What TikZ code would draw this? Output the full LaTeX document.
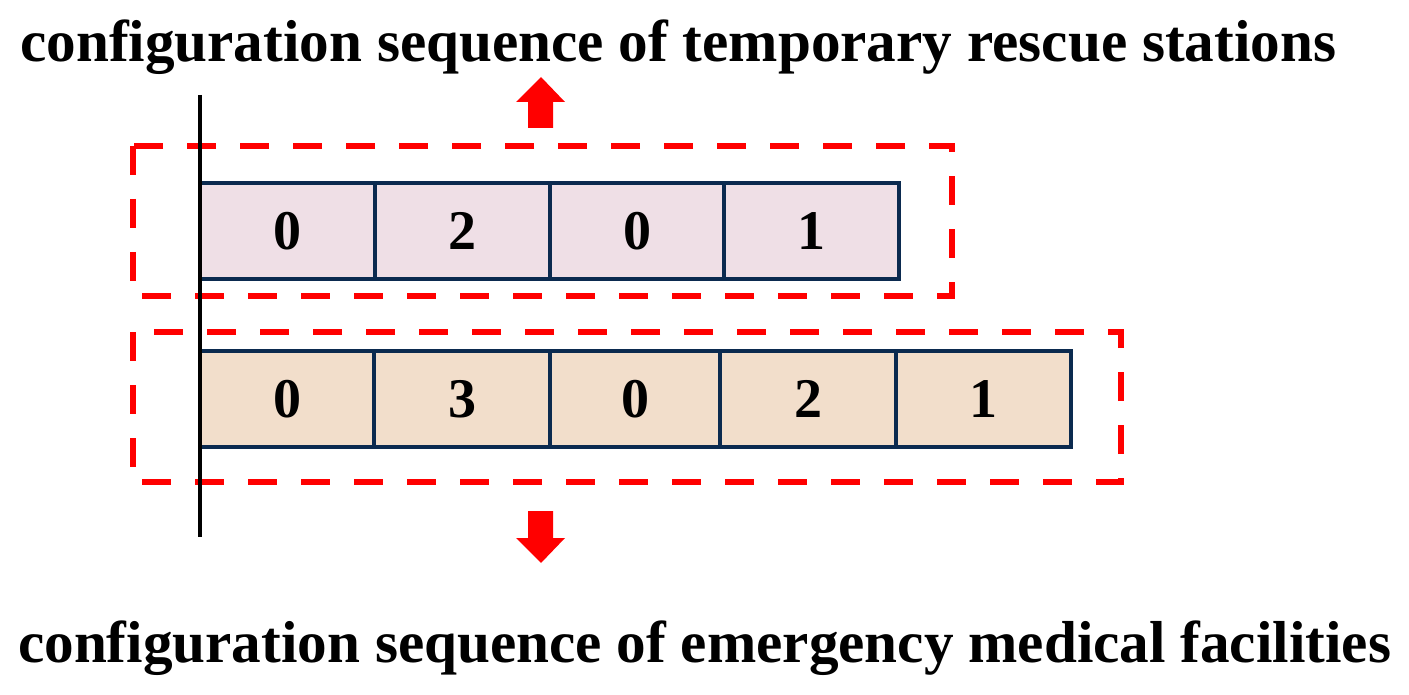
\documentclass[tikz,border=0pt]{standalone}
\usepackage{fontspec}
\setmainfont{Liberation Serif}
\definecolor{cellline}{HTML}{0B2A4F}
\definecolor{pinkfill}{HTML}{EFDFE6}
\definecolor{beigefill}{HTML}{F2DECB}
\definecolor{pured}{HTML}{FF0000}
\begin{document}
\begin{tikzpicture}[x=1pt,y=-1pt,
  cellbox/.style={draw=cellline, line width=4pt, minimum height=96pt, inner sep=0pt, outer sep=0pt, anchor=west,
    font=\fontsize{56}{60}\selectfont\bfseries},
  groupbox/.style={draw=pured, line width=5.5pt, dash pattern=on 29pt off 24pt},
  titletext/.style={font=\fontsize{59.2}{64}\selectfont\bfseries, inner sep=0pt, anchor=base west},
  bigarrow/.style={fill=pured},
  axisline/.style={draw=black, line width=4.2pt}]
\useasboundingbox (0,0) rectangle (1409,695);

% titles
\node[titletext] (ttop) at (20,62) {configuration sequence of temporary rescue stations};
\node[titletext] (tbot) at (18,662) {configuration sequence of emergency medical facilities};

% dashed group boxes
\draw[groupbox] (133,146) rectangle (952,296);
\draw[groupbox] (133,332) rectangle (1121,482);

% top sequence
\node[cellbox, fill=pinkfill, minimum width=175pt] (a1) at (200,231) {0};
\node[cellbox, fill=pinkfill, minimum width=175pt] (a2) at (375,231) {2};
\node[cellbox, fill=pinkfill, minimum width=174pt] (a3) at (550,231) {0};
\node[cellbox, fill=pinkfill, minimum width=175pt] (a4) at (724,231) {1};

% bottom sequence
\node[cellbox, fill=beigefill, minimum width=174pt] (b1) at (200,399) {0};
\node[cellbox, fill=beigefill, minimum width=176pt] (b2) at (374,399) {3};
\node[cellbox, fill=beigefill, minimum width=170pt] (b3) at (550,399) {0};
\node[cellbox, fill=beigefill, minimum width=176pt] (b4) at (720,399) {2};
\node[cellbox, fill=beigefill, minimum width=175pt] (b5) at (896,399) {1};

% vertical axis
\coordinate (vtop) at (200,95);
\coordinate (vbot) at (200,537);
\draw[axisline] (vtop) -- (vbot);

% arrows
\fill[bigarrow] (541,77) -- (565,102) -- (553,102) -- (553,128) -- (528,128) -- (528,102) -- (516,102) -- cycle;
\fill[bigarrow] (541,563) -- (565,538) -- (553,538) -- (553,511) -- (528,511) -- (528,538) -- (516,538) -- cycle;
\end{tikzpicture}
\end{document}
